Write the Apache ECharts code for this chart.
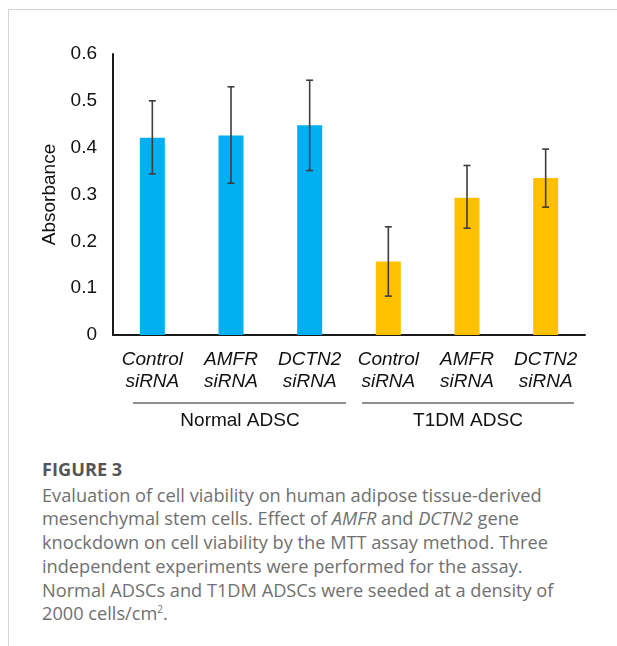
<!DOCTYPE html>
<html>
<head>
<meta charset="utf-8">
<script src="https://cdn.jsdelivr.net/npm/echarts@6/dist/echarts.min.js"></script>
<style>
  html, body { margin: 0; padding: 0; background: #fff; }
  #wrap { position: relative; width: 617px; height: 646px; overflow: hidden; }
  #frame { position: absolute; left: 8px; top: 9px; right: -2px; bottom: -2px;
           border-top: 1.5px solid #d4d4d4; border-left: 1.5px solid #d4d4d4; }
  #main { position: absolute; left: 0; top: 0; width: 617px; height: 440px; }
  #caption { position: absolute; left: 42px; top: 458px; width: 575px; white-space: nowrap;
             font-family: "Open Sans", sans-serif; font-size: 18.2px; line-height: 23.7px; color: #707070; }
  #caption .fig { font-weight: 700; color: #555; margin-bottom: 2px; }
  #caption sup { font-size: 10px; line-height: 0; }
</style>
</head>
<body>
<div id="wrap">
  <div id="frame"></div>
  <div id="main"></div>
  <div id="caption">
    <div class="fig">FIGURE 3</div>
    <div>Evaluation of cell viability on human adipose tissue-derived<br>
    mesenchymal stem cells. Effect of <i>AMFR</i> and <i>DCTN2</i> gene<br>
    knockdown on cell viability by the MTT assay method. Three<br>
    independent experiments were performed for the assay.<br>
    Normal ADSCs and T1DM ADSCs were seeded at a density of<br>
    2000 cells/cm<sup>2</sup>.</div>
  </div>
</div>
<script>
// 数据
var categories = ['Control\nsiRNA', 'AMFR\nsiRNA', 'DCTN2\nsiRNA', 'Control\nsiRNA', 'AMFR\nsiRNA', 'DCTN2\nsiRNA'];
var groups = ['Normal ADSC', 'T1DM ADSC'];
var means = [0.421, 0.426, 0.448, 0.157, 0.293, 0.335];
var errLow = [0.344, 0.324, 0.351, 0.083, 0.228, 0.273];
var errHigh = [0.500, 0.530, 0.544, 0.231, 0.362, 0.397];
var barColors = ['#00b0f0', '#00b0f0', '#00b0f0', '#ffc000', '#ffc000', '#ffc000'];
var yTicks = [0, 0.1, 0.2, 0.3, 0.4, 0.5, 0.6];

var myChart = echarts.init(document.getElementById('main'));

var errData = means.map(function (m, i) { return [i, errLow[i], errHigh[i]]; });
var font = 'Liberation Sans, Arial';

myChart.setOption({
  animation: false,
  grid: { left: 113, top: 54, width: 472, height: 281 },
  xAxis: {
    type: 'category',
    data: categories,
    axisLine: { lineStyle: { color: '#1a1a1a', width: 2 } },
    axisTick: { show: false },
    axisLabel: {
      margin: 14,
      interval: 0,
      fontFamily: font,
      fontStyle: 'italic',
      fontSize: 19,
      lineHeight: 22,
      color: '#111'
    }
  },
  yAxis: {
    type: 'value',
    min: 0,
    max: 0.6,
    interval: 0.1,
    name: 'Absorbance',
    nameLocation: 'middle',
    nameGap: 45,
    nameRotate: 90,
    nameTextStyle: { fontFamily: font, fontSize: 19, color: '#111' },
    axisLine: { show: true, lineStyle: { color: '#1a1a1a', width: 2 } },
    axisTick: { show: false },
    splitLine: { show: false },
    axisLabel: {
      margin: 16,
      fontFamily: font,
      fontSize: 19,
      color: '#111',
      formatter: function (v) { return yTicks.indexOf(+v.toFixed(1)) >= 0 ? String(+v.toFixed(1)) : ''; }
    }
  },
  series: [
    {
      type: 'bar',
      barWidth: 25,
      data: means.map(function (v, i) { return { value: v, itemStyle: { color: barColors[i] } }; })
    },
    {
      type: 'custom',
      data: errData,
      z: 10,
      renderItem: function (params, api) {
        var x = api.coord([api.value(0), 0])[0];
        var lo = api.coord([api.value(0), api.value(1)])[1];
        var hi = api.coord([api.value(0), api.value(2)])[1];
        var s = { stroke: '#3d3d3d', lineWidth: 1.6 };
        return {
          type: 'group',
          children: [
            { type: 'line', shape: { x1: x, y1: lo, x2: x, y2: hi }, style: s },
            { type: 'line', shape: { x1: x - 3.5, y1: hi, x2: x + 3.5, y2: hi }, style: s },
            { type: 'line', shape: { x1: x - 3.5, y1: lo, x2: x + 3.5, y2: lo }, style: s }
          ]
        };
      }
    }
  ],
  graphic: [
    { type: 'line', shape: { x1: 133, y1: 403, x2: 346, y2: 403 }, style: { stroke: '#222', lineWidth: 1 } },
    { type: 'line', shape: { x1: 362, y1: 403, x2: 574, y2: 403 }, style: { stroke: '#222', lineWidth: 1 } },
    { type: 'text', x: 240, y: 421, style: { text: groups[0], font: '19px "Liberation Sans", Arial', fill: '#111', textAlign: 'center', textVerticalAlign: 'middle' } },
    { type: 'text', x: 468, y: 421, style: { text: groups[1], font: '19px "Liberation Sans", Arial', fill: '#111', textAlign: 'center', textVerticalAlign: 'middle' } }
  ]
});
</script>
</body>
</html>
